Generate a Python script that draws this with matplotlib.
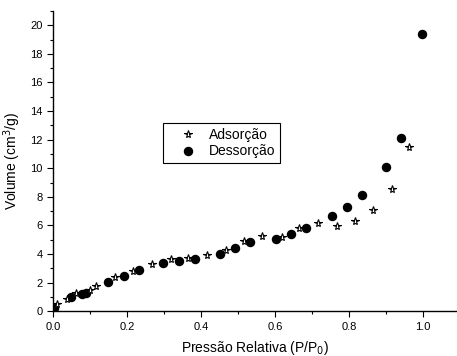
import matplotlib
matplotlib.use("Agg")
import matplotlib.pyplot as plt
from matplotlib.ticker import MultipleLocator

plt.rcParams['font.family'] = ['Liberation Sans', 'DejaVu Sans']

ads_x = [0.010, 0.037, 0.063, 0.099, 0.117, 0.168, 0.217, 0.267, 0.318, 0.366,
         0.417, 0.468, 0.516, 0.566, 0.618, 0.666, 0.715, 0.767, 0.816, 0.866,
         0.915, 0.962]
ads_y = [0.50, 0.83, 1.28, 1.50, 1.75, 2.40, 2.81, 3.33, 3.64, 3.70,
         3.94, 4.31, 4.90, 5.24, 5.22, 5.83, 6.20, 5.99, 6.32, 7.11,
         8.58, 11.47]

des_x = [0.004, 0.048, 0.078, 0.088, 0.149, 0.191, 0.233, 0.298, 0.341, 0.384,
         0.451, 0.491, 0.533, 0.602, 0.642, 0.685, 0.753, 0.794, 0.835, 0.901,
         0.940, 0.998]
des_y = [0.20, 1.02, 1.20, 1.27, 2.07, 2.47, 2.87, 3.38, 3.52, 3.62,
         4.03, 4.42, 4.84, 5.03, 5.38, 5.80, 6.67, 7.30, 8.15, 10.12,
         12.12, 19.37]

fig = plt.figure(figsize=(4.57, 3.56), dpi=100)
ax = fig.add_axes([0.116, 0.126, 0.884, 0.843])

ax.plot(des_x, des_y, linestyle='none', marker='o', markersize=5.8,
        color='black', label='Dessorção', zorder=3)
ax.plot(ads_x, ads_y, linestyle='none', marker='*', markersize=5.8,
        markerfacecolor='white', markeredgecolor='black', markeredgewidth=0.8,
        label='Adsorção', zorder=4)

ax.set_xlim(0, 1.092)
ax.set_ylim(0, 21)
ax.xaxis.set_minor_locator(MultipleLocator(0.1))
ax.yaxis.set_major_locator(MultipleLocator(2))
ax.yaxis.set_minor_locator(MultipleLocator(1))
ax.set_xticks([0, 0.2, 0.4, 0.6, 0.8, 1.0])
ax.set_xticklabels(['0.0', '0.2', '0.4', '0.6', '0.8', '1.0'])

for s in ['top', 'right']:
    ax.spines[s].set_visible(False)
for s in ['left', 'bottom']:
    ax.spines[s].set_linewidth(1.0)

ax.tick_params(which='major', direction='out', length=4, width=0.8, labelsize=8)
ax.tick_params(which='minor', direction='out', length=2.5, width=0.8)

ax.set_xlabel('Pressão Relativa (P/P$_0$)', fontsize=10, labelpad=5)
ax.set_ylabel('Volume (cm$^3$/g)', fontsize=10, labelpad=5)

handles, labels = ax.get_legend_handles_labels()
leg = ax.legend(handles[::-1], labels[::-1], loc='center',
                bbox_to_anchor=(221.5 / 457, 1 - 143 / 356),
                bbox_transform=fig.transFigure,
                fontsize=10, frameon=True, fancybox=False, framealpha=1,
                edgecolor='black', borderpad=0.3, labelspacing=0.2,
                handletextpad=0.0, handlelength=3.0, borderaxespad=0)
leg.get_frame().set_linewidth(0.8)

fig.savefig('out.png', dpi=100)
